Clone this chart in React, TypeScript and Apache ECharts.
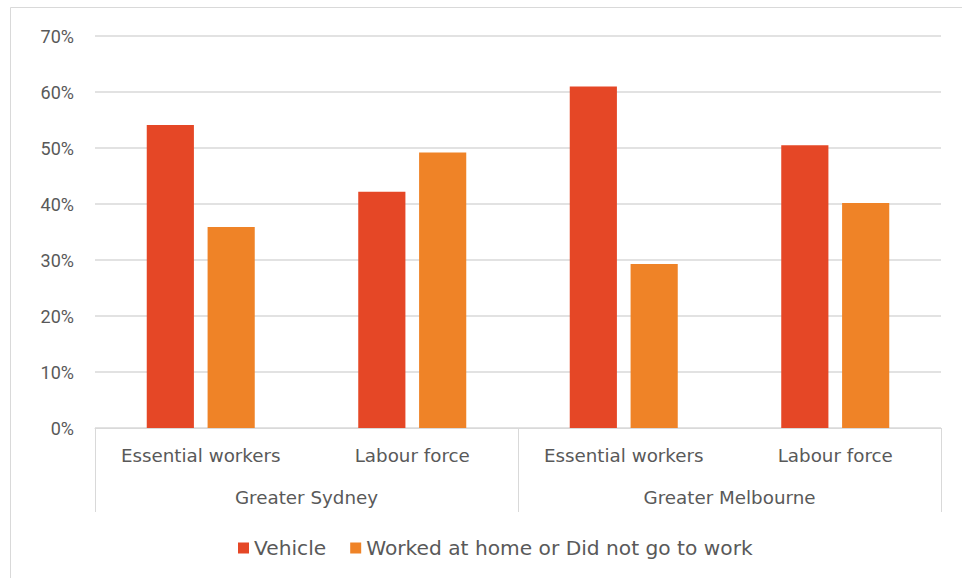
import React, { useEffect, useRef } from "react";
import * as echarts from "echarts";

const subCategories = ["Essential workers", "Labour force", "Essential workers", "Labour force"];
const regions = ["Greater Sydney", "Greater Melbourne"];
const seriesNames = ["Vehicle", "Worked at home or Did not go to work"];
const vehicleValues = [54.1, 42.2, 61.0, 50.5];
const homeValues = [35.9, 49.2, 29.3, 40.2];
const yTicks = [0, 70, 10];

const FONT = "DejaVu Sans";
const TXT = "#595959";

export default function App() {
  const ref = useRef<HTMLDivElement>(null);
  useEffect(() => {
    document.body.style.margin = "0";
    const chart = echarts.init(ref.current!, null, { renderer: "svg" });
    chart.setOption({
      animation: false,
      textStyle: { fontFamily: FONT },
      graphic: [
        {
          type: "rect",
          shape: { x: 10.5, y: 7.5, width: 1000, height: 1000 },
          style: { fill: "none", stroke: "#d9d9d9", lineWidth: 1 },
          silent: true,
        },
      ],
      legend: {
        bottom: 15,
        left: 233,
        icon: "rect",
        itemWidth: 11,
        itemHeight: 11,
        itemGap: 24,
        textStyle: { color: TXT, fontSize: 20.2, fontFamily: FONT },
        data: seriesNames,
      },
      grid: { left: 95, right: 21, top: 36, bottom: 150 },
      xAxis: [
        {
          type: "category",
          data: subCategories,
          axisLine: { lineStyle: { color: "#d9d9d9", width: 1 } },
          axisTick: { show: false },
          axisLabel: { color: TXT, fontSize: 18.3, margin: 18, interval: 0, fontFamily: FONT },
        },
        {
          type: "category",
          data: regions,
          position: "bottom",
          axisLine: { show: false },
          axisTick: { show: true, length: 84, lineStyle: { color: "#d9d9d9" } },
          axisLabel: { color: TXT, fontSize: 18.3, margin: 60, interval: 0, fontFamily: FONT },
        },
      ],
      yAxis: {
        type: "value",
        min: yTicks[0],
        max: yTicks[1],
        interval: yTicks[2],
        axisLabel: { color: TXT, fontSize: 18, margin: 21, formatter: "{value}%", fontFamily: "Roboto" },
        splitLine: { lineStyle: { color: "#d9d9d9", width: 1.5 } },
        axisLine: { show: false },
        axisTick: { show: false },
      },
      series: [
        {
          name: seriesNames[0],
          type: "bar",
          data: vehicleValues,
          barWidth: "22.3%",
          barGap: "29%",
          itemStyle: { color: "#E54726" },
        },
        {
          name: seriesNames[1],
          type: "bar",
          data: homeValues,
          barWidth: "22.3%",
          itemStyle: { color: "#EF8327" },
        },
      ],
    });
    return () => chart.dispose();
  }, []);
  return <div ref={ref} style={{ width: 962, height: 578 }} />;
}
